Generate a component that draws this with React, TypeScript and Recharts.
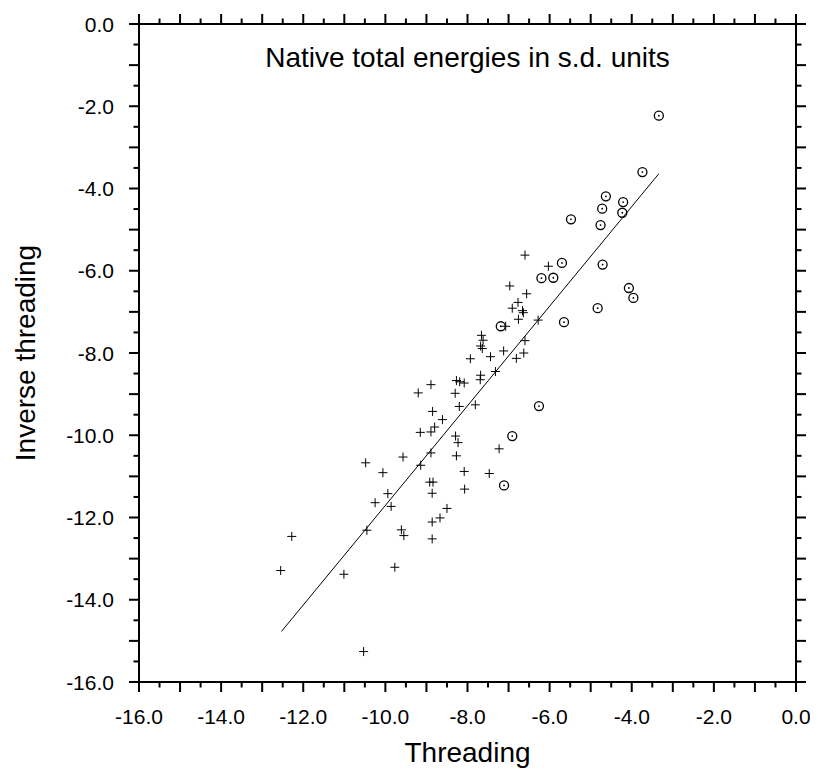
import { ScatterChart, Scatter, XAxis, YAxis, Label } from "recharts";

// threading (x) / inverse threading (y)
const crossX = [
  -6.60, -6.03, -6.97, -6.56, -6.77, -6.91, -6.66, -6.64, -6.76, -6.28,
  -7.07, -7.66, -7.62, -7.68, -7.64, -7.12, -6.60, -6.63, -7.93, -7.44,
  -6.81, -7.32, -7.68, -7.69, -8.27, -8.19, -8.08, -8.89, -9.20, -8.30,
  -7.81, -8.20, -8.85, -8.61, -8.80, -8.89, -9.15, -8.29, -8.23, -7.23,
  -9.57, -8.89, -8.27, -10.48, -9.14, -10.06, -8.08, -7.47, -8.92, -8.84,
  -8.07, -8.86, -9.94, -10.25, -9.86, -8.50, -8.67, -8.86, -10.45, -9.61,
  -9.55, -8.86, -12.28, -12.55, -11.01, -9.77, -10.53,
];
const crossY = [
  -5.62, -5.89, -6.37, -6.56, -6.77, -6.91, -6.97, -7.02, -7.18, -7.20,
  -7.35, -7.57, -7.69, -7.83, -7.89, -7.95, -7.70, -8.00, -8.14, -8.09,
  -8.13, -8.45, -8.54, -8.65, -8.67, -8.70, -8.73, -8.77, -8.97, -8.98,
  -9.26, -9.30, -9.42, -9.62, -9.80, -9.92, -9.93, -10.02, -10.18, -10.33,
  -10.53, -10.43, -10.50, -10.67, -10.73, -10.91, -10.88, -10.93, -11.14, -11.14,
  -11.31, -11.41, -11.42, -11.64, -11.73, -11.78, -12.01, -12.11, -12.31, -12.30,
  -12.44, -12.52, -12.46, -13.29, -13.38, -13.21, -15.26,
];
const circleX = [
  -3.34, -3.74, -4.63, -4.21, -4.72, -4.23, -5.48, -4.76, -5.70, -4.71,
  -6.20, -5.91, -4.07, -3.96, -4.83, -5.65, -7.19, -6.26, -6.91, -7.11,
];
const circleY = [
  -2.23, -3.60, -4.19, -4.33, -4.49, -4.59, -4.75, -4.89, -5.81, -5.85,
  -6.18, -6.17, -6.42, -6.66, -6.91, -7.25, -7.35, -9.29, -10.02, -11.22,
];
// regression line end points
const fitX = [-12.53, -3.34];
const fitY = [-14.77, -3.64];

const frameTicks = [
  -16, -15.5, -15, -14.5, -14, -13.5, -13, -12.5, -12, -11.5, -11, -10.5,
  -10, -9.5, -9, -8.5, -8, -7.5, -7, -6.5, -6, -5.5, -5, -4.5, -4, -3.5,
  -3, -2.5, -2, -1.5, -1, -0.5, 0,
];
const labelTicks = [-16, -14, -12, -10, -8, -6, -4, -2, 0];

const crosses = crossX.map((x, i) => ({ x, y: crossY[i] }));
const circles = circleX.map((x, i) => ({ x, y: circleY[i] }));
const fitLine = fitX.map((x, i) => ({ x, y: fitY[i] }));

const FONT = "'Liberation Sans', Arial, Helvetica, sans-serif";

function FrameTick(props: any) {
  const { x, y, payload, side } = props;
  const v = payload.value;
  const len = Number.isInteger(v) ? 10 : 5.5;
  const showLabel = (side === "bottom" || side === "left") && labelTicks.includes(v);
  const txt = Math.abs(v) < 1e-9 ? "0.0" : v.toFixed(1);
  if (side === "bottom") {
    return (
      <g>
        <line x1={x} y1={y} x2={x} y2={y + len} stroke="#000" strokeWidth={2} />
        {showLabel && (
          <text x={x} y={y + 34} textAnchor="middle" dominantBaseline="central" fontSize={21} fontFamily={FONT} fill="#000">
            {txt}
          </text>
        )}
      </g>
    );
  }
  if (side === "top") {
    return <line x1={x} y1={y} x2={x} y2={y - len} stroke="#000" strokeWidth={2} />;
  }
  if (side === "left") {
    return (
      <g>
        <line x1={x} y1={y} x2={x - len} y2={y} stroke="#000" strokeWidth={2} />
        {showLabel && (
          <text x={x - 25} y={y} textAnchor="end" dominantBaseline="central" fontSize={21} fontFamily={FONT} fill="#000">
            {txt}
          </text>
        )}
      </g>
    );
  }
  return <line x1={x} y1={y} x2={x + len} y2={y} stroke="#000" strokeWidth={2} />;
}

function CrossDot(props: any) {
  const { cx, cy } = props;
  if (cx == null || cy == null) return <g />;
  return <path d={`M${cx - 4.5},${cy}h9M${cx},${cy - 4.5}v9`} stroke="#000" strokeWidth={1} fill="none" />;
}

function CircleDot(props: any) {
  const { cx, cy } = props;
  if (cx == null || cy == null) return <g />;
  return (
    <g>
      <circle cx={cx} cy={cy} r={4.5} fill="none" stroke="#000" strokeWidth={1.3} />
      <circle cx={cx} cy={cy} r={0.9} fill="#000" />
    </g>
  );
}

function NoDot() {
  return <g />;
}

function XTitle(props: any) {
  const vb = props.viewBox || {};
  const cx = (vb.x ?? 131) + (vb.width ?? 657) / 2;
  return (
    <text x={cx} y={762} textAnchor="middle" fontSize={28} fontFamily={FONT} fill="#000">
      Threading
    </text>
  );
}

function YTitle(props: any) {
  const vb = props.viewBox || {};
  const cy = (vb.y ?? 24) + (vb.height ?? 658) / 2;
  const cx = 17;
  return (
    <text x={cx} y={cy} transform={`rotate(-90 ${cx} ${cy})`} textAnchor="middle" dominantBaseline="central" fontSize={28} fontFamily={FONT} fill="#000">
      Inverse threading
    </text>
  );
}

function TopTitle(props: any) {
  const vb = props.viewBox || {};
  const cx = (vb.x ?? 131) + (vb.width ?? 657) / 2;
  return (
    <text x={cx} y={57} textAnchor="middle" dominantBaseline="central" fontSize={28} fontFamily={FONT} fill="#000">
      Native total energies in s.d. units
    </text>
  );
}

export default function App() {
  return (
    <div style={{ margin: "-8px 0", background: "#fff" }}>
      <ScatterChart width={802} height={776} margin={{ top: 0, right: 0, bottom: 0, left: 0 }}>
        <XAxis xAxisId="b" dataKey="x" type="number" domain={[-16, 0]} ticks={frameTicks} interval={0}
          orientation="bottom" height={94} tickSize={0} tickMargin={0} tickLine={false}
          axisLine={{ stroke: "#000", strokeWidth: 2 }} tick={<FrameTick side="bottom" />} allowDataOverflow>
          <Label content={<XTitle />} />
        </XAxis>
        <XAxis xAxisId="t" dataKey="x" type="number" domain={[-16, 0]} ticks={frameTicks} interval={0}
          orientation="top" height={24} tickSize={0} tickMargin={0} tickLine={false}
          axisLine={{ stroke: "#000", strokeWidth: 2 }} tick={<FrameTick side="top" />} allowDataOverflow>
          <Label content={<TopTitle />} />
        </XAxis>
        <YAxis yAxisId="l" dataKey="y" type="number" domain={[-16, 0]} ticks={frameTicks} interval={0}
          orientation="left" width={131} tickSize={0} tickMargin={0} tickLine={false}
          axisLine={{ stroke: "#000", strokeWidth: 2 }} tick={<FrameTick side="left" />} allowDataOverflow>
          <Label content={<YTitle />} />
        </YAxis>
        <YAxis yAxisId="r" dataKey="y" type="number" domain={[-16, 0]} ticks={frameTicks} interval={0}
          orientation="right" width={14} tickSize={0} tickMargin={0} tickLine={false}
          axisLine={{ stroke: "#000", strokeWidth: 2 }} tick={<FrameTick side="right" />} allowDataOverflow />
        <Scatter xAxisId="b" yAxisId="l" data={fitLine} line={{ stroke: "#000", strokeWidth: 1 }}
          shape={<NoDot />} isAnimationActive={false} legendType="none" />
        <Scatter xAxisId="b" yAxisId="l" data={crosses} shape={<CrossDot />} isAnimationActive={false} legendType="none" />
        <Scatter xAxisId="b" yAxisId="l" data={circles} shape={<CircleDot />} isAnimationActive={false} legendType="none" />
      </ScatterChart>
    </div>
  );
}
